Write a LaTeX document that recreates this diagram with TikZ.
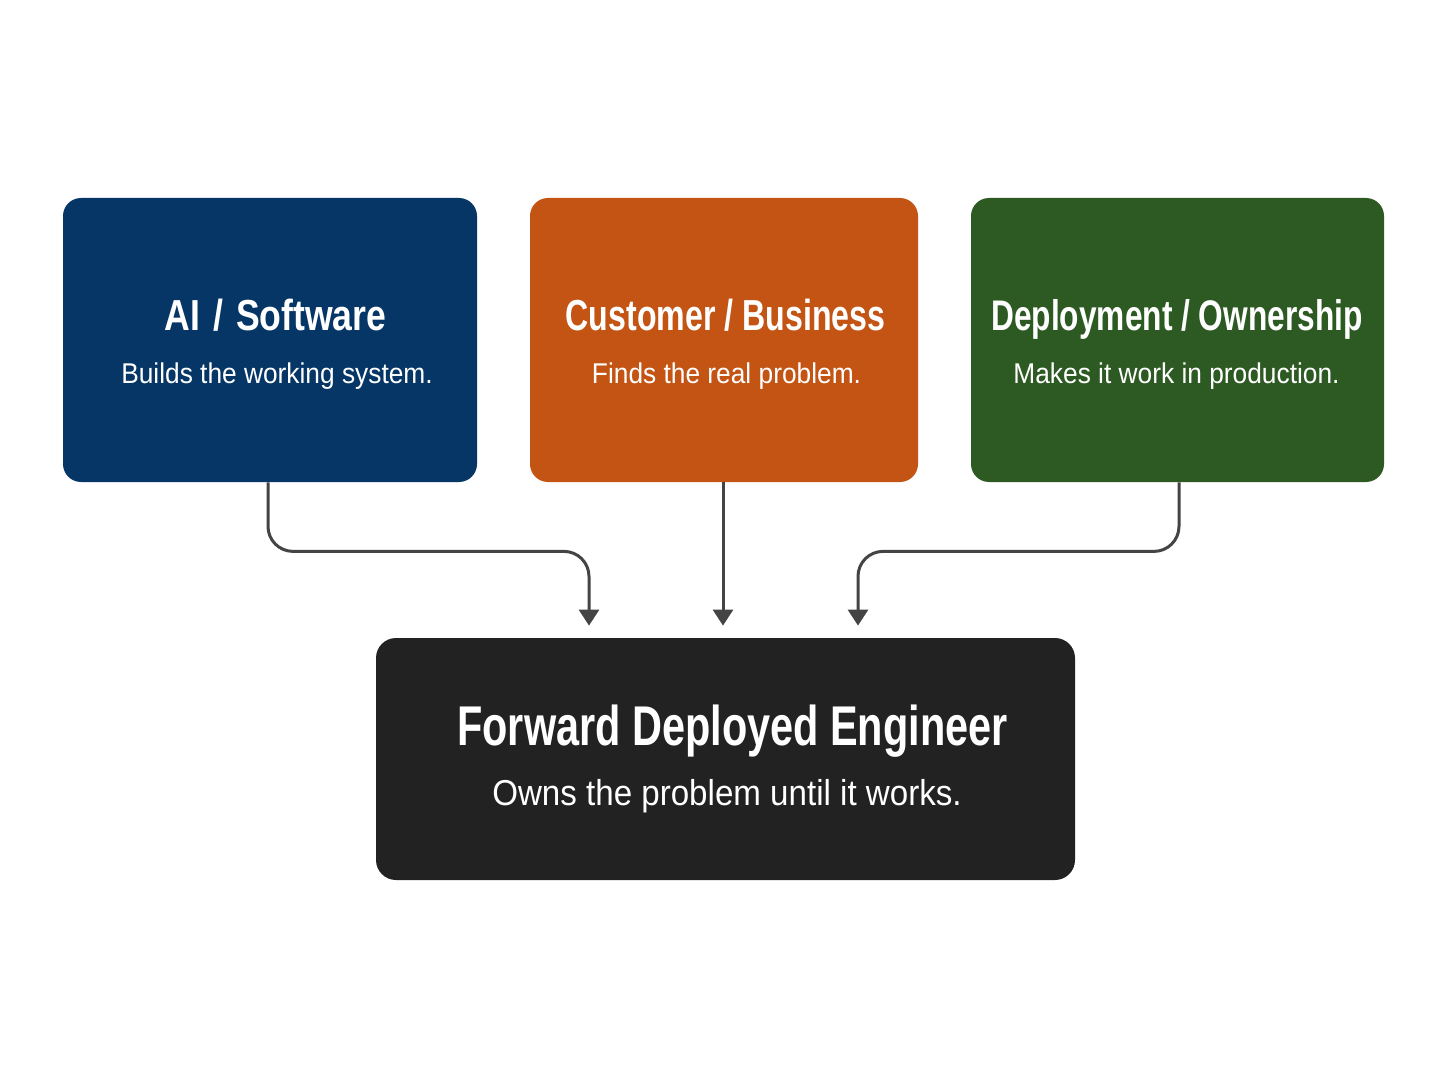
\documentclass[tikz,border=0pt]{standalone}
\usepackage{fontspec}
\setmainfont{Liberation Sans}
\newfontfamily\tfont{Liberation Sans}[FakeStretch=0.74]
\newfontfamily\tfontw{Liberation Sans}[FakeStretch=0.82]
\newfontfamily\sfont{Liberation Sans}[FakeStretch=0.92]
\usetikzlibrary{arrows.meta}
\definecolor{blueC}{HTML}{063666}
\definecolor{orangeC}{HTML}{C35414}
\definecolor{greenC}{HTML}{2D5A23}
\definecolor{blackC}{HTML}{222222}
\definecolor{lineC}{HTML}{444444}
\tikzset{
  box/.style={rounded corners=9pt, inner sep=0pt, draw=none},
  ttl/.style={text=white, anchor=base, inner sep=0pt, font=\tfont\bfseries\fontsize{21.7}{26}\selectfont},
  sub/.style={text=white, anchor=base, inner sep=0pt, font=\sfont\fontsize{14.3}{17}\selectfont},
  bigttl/.style={ttl, font=\tfont\bfseries\fontsize{28}{33}\selectfont},
  bigsub/.style={sub, font=\sfont\fontsize{18}{22}\selectfont},
  conn/.style={draw=lineC, line width=1.5pt, rounded corners=12.5pt, -{Triangle[width=10pt,length=8pt]}, shorten >=6pt}
}
\begin{document}
\begin{tikzpicture}[x=0.5pt,y=-0.5pt]
\useasboundingbox[fill=white] (0,0) rectangle (1448,1086);
% boxes
\node[box, fill=blueC, minimum width=207pt, minimum height=142pt] (ai) at (270,340) {};
\node[box, fill=orangeC, minimum width=194pt, minimum height=142pt] (cb) at (724,340) {};
\node[box, fill=greenC, minimum width=206.5pt, minimum height=142pt] (dp) at (1177.5,340) {};
\node[box, fill=blackC, minimum width=349.5pt, minimum height=121pt, rounded corners=10pt] (fde) at (725.5,759) {};
% texts
\node[ttl, font=\tfontw\bfseries\fontsize{21.7}{26}\selectfont] (aiT) at (275.5,330) {AI\hspace{6.5pt}/\hspace{6.5pt}Software};
\node[sub] (aiS) at (277,383) {Builds the working system.};
\node[ttl] (cbT) at (725.5,330) {Customer / Business};
\node[sub] (cbS) at (726.5,383) {Finds the real problem.};
\node[ttl, font=\tfont\bfseries\fontsize{21.4}{26}\selectfont] (dpT) at (1177,330) {Deployment / Ownership};
\node[sub] (dpS) at (1176.5,383) {Makes it work in production.};
\node[bigttl] (fdeT) at (732.5,745) {Forward Deployed Engineer};
\node[bigsub] (fdeS) at (727,805) {Owns the problem until it works.};
% connectors
\path (fde.north) ++(-136.5,0) coordinate (inL);
\path (fde.north) ++(132.5,0) coordinate (inR);
\draw[conn] ([xshift=-1pt]ai.south) |- ++(160,69) -| (inL);
\draw[conn] ([xshift=-0.5pt]cb.south) -- ([xshift=-0.5pt]cb.south |- fde.north);
\draw[conn] ([xshift=0.75pt]dp.south) |- ++(-160,69) -| (inR);
\end{tikzpicture}
\end{document}
